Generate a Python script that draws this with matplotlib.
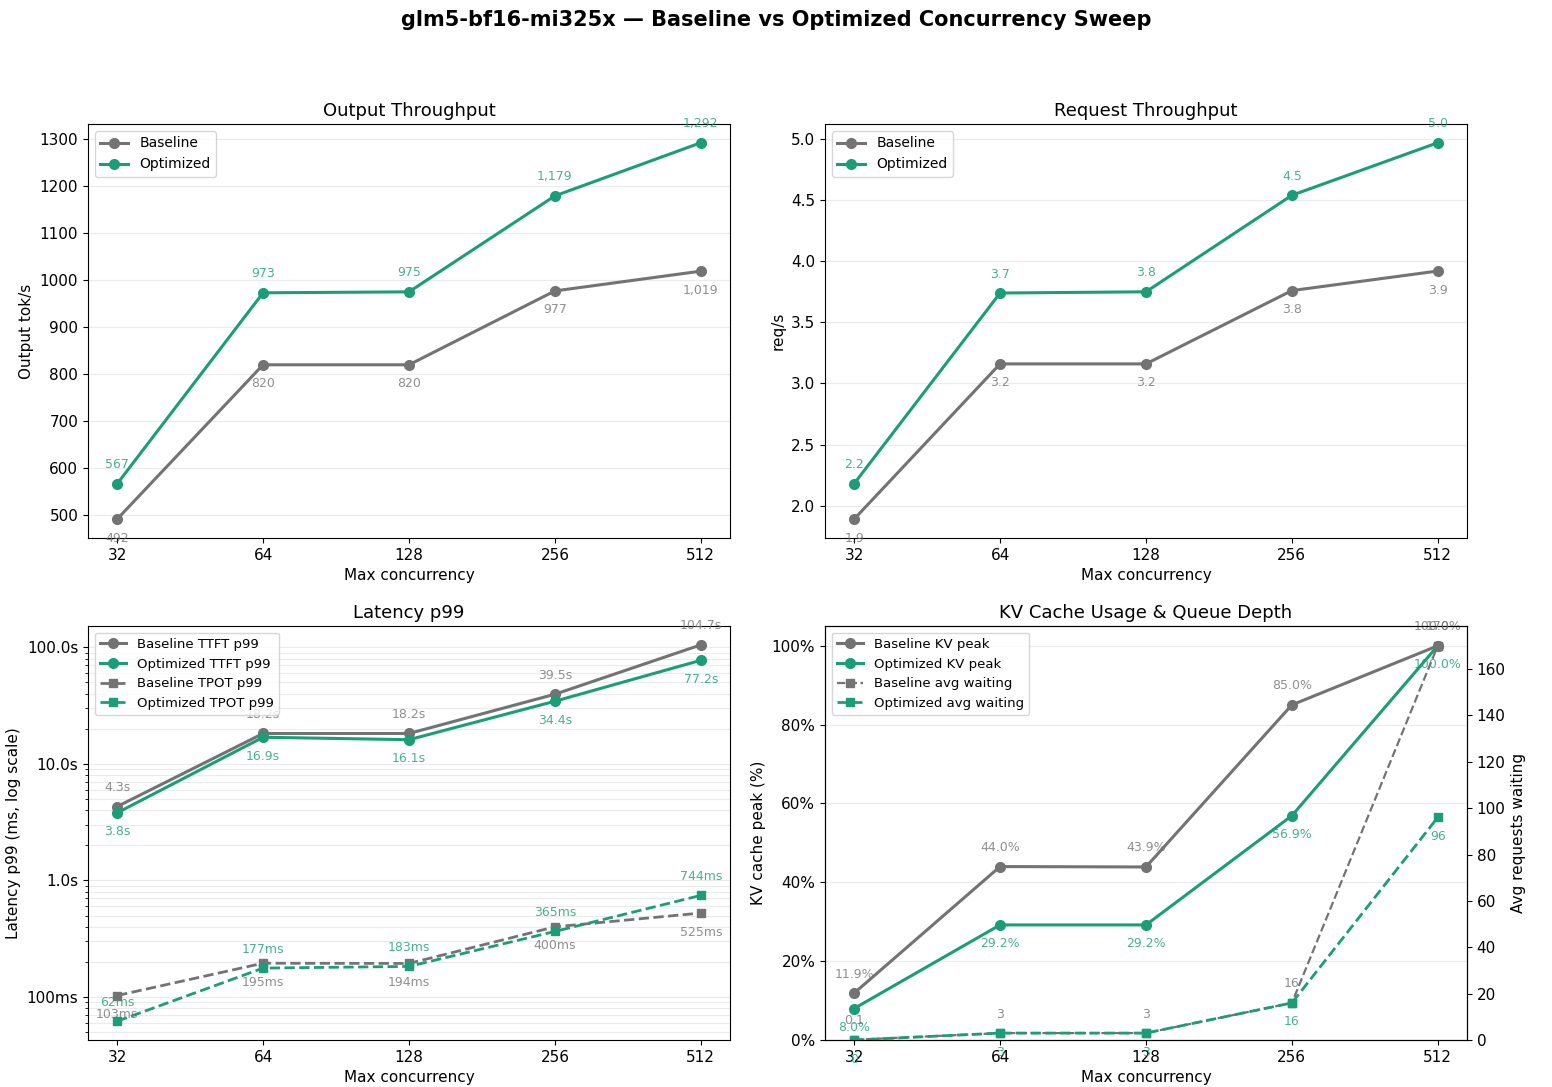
import numpy as np
import matplotlib
matplotlib.use("Agg")
import matplotlib.pyplot as plt
from matplotlib.ticker import FuncFormatter, PercentFormatter

# ---- data ----
concurrency = ["32", "64", "128", "256", "512"]

out_tput_base = [492, 820, 820, 977, 1019]
out_tput_opt = [567, 973, 975, 1179, 1292]

req_tput_base = [1.89, 3.16, 3.16, 3.76, 3.92]
req_tput_opt = [2.18, 3.74, 3.75, 4.54, 4.97]

ttft_base = [4300, 18200, 18200, 39500, 104700]   # ms
ttft_opt = [3800, 16900, 16100, 34400, 77200]
tpot_base = [103, 195, 194, 400, 525]
tpot_opt = [62, 177, 183, 365, 744]

kv_base = [11.9, 44.0, 43.9, 85.0, 100.0]
kv_opt = [8.0, 29.2, 29.2, 56.9, 100.0]
wait_base = [0.1, 3, 3, 16, 170]
wait_opt = [0, 3, 3, 16, 96]

GRAY = "#737373"
GREEN = "#1b9e77"

x = np.arange(len(concurrency))


def label_points(ax, xs, ys, fmt, color, above=True):
    for xi, yi in zip(xs, ys):
        ax.annotate(fmt(yi), (xi, yi), xytext=(0, 9 if above else -9),
                    textcoords="offset points", ha="center",
                    va="bottom" if above else "top",
                    fontsize=9, color=color, alpha=0.8)


def fmt_ms(v):
    if v < 1000:
        return f"{v:.0f}ms"
    return f"{v / 1000:.1f}s"


def fmt_wait(v):
    return f"{v:.0f}" if v == int(v) else f"{v:.1f}"


def style(ax, ylabel):
    ax.set_xticks(x)
    ax.set_xticklabels(concurrency)
    ax.set_xlabel("Max concurrency", fontsize=11)
    ax.set_ylabel(ylabel, fontsize=11)
    ax.tick_params(labelsize=11)


fig, axes = plt.subplots(2, 2, figsize=(15.52, 10.87), dpi=100)
fig.subplots_adjust(left=0.0567, right=0.9452, top=0.886, bottom=0.0432,
                    wspace=0.148, hspace=0.213)
fig.suptitle("glm5-bf16-mi325x \u2014 Baseline vs Optimized Concurrency Sweep",
             fontsize=15, fontweight="bold", y=0.982, va="center")

# Output throughput
ax = axes[0, 0]
ax.plot(x, out_tput_base, "-o", color=GRAY, lw=2.2, ms=7, label="Baseline")
ax.plot(x, out_tput_opt, "-o", color=GREEN, lw=2.2, ms=7, label="Optimized")
label_points(ax, x, out_tput_base, lambda v: f"{v:,.0f}", GRAY, above=False)
label_points(ax, x, out_tput_opt, lambda v: f"{v:,.0f}", GREEN, above=True)
ax.set_title("Output Throughput", fontsize=13)
style(ax, "Output tok/s")
ax.grid(axis="y", alpha=0.25)
ax.legend(loc="upper left", fontsize=10)

# Request throughput
ax = axes[0, 1]
ax.plot(x, req_tput_base, "-o", color=GRAY, lw=2.2, ms=7, label="Baseline")
ax.plot(x, req_tput_opt, "-o", color=GREEN, lw=2.2, ms=7, label="Optimized")
label_points(ax, x, req_tput_base, lambda v: f"{v:.1f}", GRAY, above=False)
label_points(ax, x, req_tput_opt, lambda v: f"{v:.1f}", GREEN, above=True)
ax.set_title("Request Throughput", fontsize=13)
style(ax, "req/s")
ax.grid(axis="y", alpha=0.25)
ax.legend(loc="upper left", fontsize=10)

# Latency p99
ax = axes[1, 0]
ax.plot(x, ttft_base, "-o", color=GRAY, lw=2.2, ms=7, label="Baseline TTFT p99")
ax.plot(x, ttft_opt, "-o", color=GREEN, lw=2.2, ms=7, label="Optimized TTFT p99")
ax.plot(x, tpot_base, "--s", color=GRAY, lw=2, ms=6, label="Baseline TPOT p99")
ax.plot(x, tpot_opt, "--s", color=GREEN, lw=2, ms=6, label="Optimized TPOT p99")
label_points(ax, x, ttft_base, fmt_ms, GRAY, above=True)
label_points(ax, x, ttft_opt, fmt_ms, GREEN, above=False)
label_points(ax, x, tpot_base, fmt_ms, GRAY, above=False)
label_points(ax, x, tpot_opt, fmt_ms, GREEN, above=True)
ax.set_yscale("log")
ax.yaxis.set_major_formatter(FuncFormatter(lambda v, p: fmt_ms(v)))
ax.set_title("Latency p99", fontsize=13)
style(ax, "Latency p99 (ms, log scale)")
ax.grid(axis="y", which="both", alpha=0.25)
ax.legend(loc="upper left", fontsize=9.5)

# KV cache & queue depth
ax = axes[1, 1]
ax2 = ax.twinx()
l1, = ax.plot(x, kv_base, "-o", color=GRAY, lw=2.2, ms=7, label="Baseline KV peak")
l2, = ax.plot(x, kv_opt, "-o", color=GREEN, lw=2.2, ms=7, label="Optimized KV peak")
l3, = ax2.plot(x, wait_base, "--s", color=GRAY, lw=1.6, ms=6, label="Baseline avg waiting")
l4, = ax2.plot(x, wait_opt, "--s", color=GREEN, lw=2, ms=6, label="Optimized avg waiting")
label_points(ax, x, kv_base, lambda v: f"{v:.1f}%", GRAY, above=True)
label_points(ax, x, kv_opt, lambda v: f"{v:.1f}%", GREEN, above=False)
label_points(ax2, x, wait_base, fmt_wait, GRAY, above=True)
label_points(ax2, x, wait_opt, fmt_wait, GREEN, above=False)
ax.set_ylim(0, 105)
ax2.set_ylim(0, max(wait_base) * 1.05)
ax.yaxis.set_major_formatter(PercentFormatter(decimals=0))
ax.set_title("KV Cache Usage & Queue Depth", fontsize=13)
style(ax, "KV cache peak (%)")
ax2.set_ylabel("Avg requests waiting", fontsize=11)
ax2.tick_params(labelsize=11)
ax.grid(axis="y", alpha=0.25)
ax2.legend([l1, l2, l3, l4], [l.get_label() for l in (l1, l2, l3, l4)],
           loc="upper left", fontsize=9.5)

fig.savefig("out.png", dpi=100)
